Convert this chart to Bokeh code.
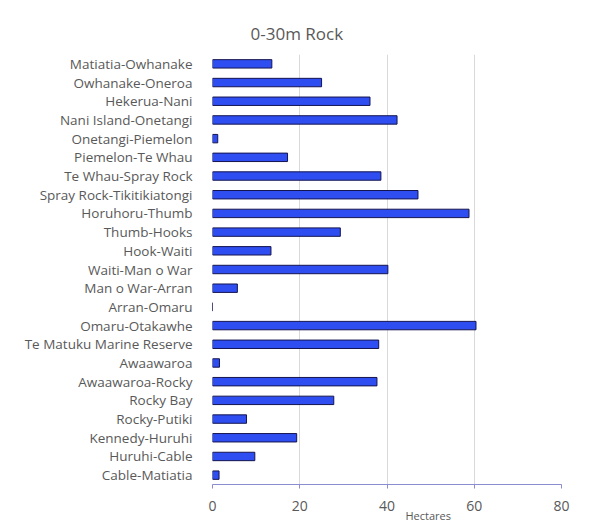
from bokeh.plotting import figure
from bokeh.models import FactorRange, FixedTicker, Title
from bokeh.embed import file_html
from bokeh.resources import INLINE

categories = [
    "Matiatia-Owhanake", "Owhanake-Oneroa", "Hekerua-Nani", "Nani Island-Onetangi",
    "Onetangi-Piemelon", "Piemelon-Te Whau", "Te Whau-Spray Rock",
    "Spray Rock-Tikitikiatongi", "Horuhoru-Thumb", "Thumb-Hooks", "Hook-Waiti",
    "Waiti-Man o War", "Man o War-Arran", "Arran-Omaru", "Omaru-Otakawhe",
    "Te Matuku Marine Reserve", "Awaawaroa", "Awaawaroa-Rocky", "Rocky Bay",
    "Rocky-Putiki", "Kennedy-Huruhi", "Huruhi-Cable", "Cable-Matiatia",
]
hectares = [13.6, 25.0, 36.1, 42.3, 1.2, 17.2, 38.6, 47.1, 58.8, 29.3, 13.4,
            40.2, 5.7, 0.0, 60.4, 38.1, 1.6, 37.7, 27.8, 7.8, 19.3, 9.7, 1.5]
x_ticks = [0, 20, 40, 60, 80]

FONT = "Open Sans"
GREY = "#595959"

p = figure(
    y_range=FactorRange(factors=list(reversed(categories))),
    x_range=(0, 80),
    frame_width=349, frame_height=430,
    min_border_left=212, min_border_right=27, min_border_top=54, min_border_bottom=37,
    output_backend="svg", toolbar_location=None,
)

p.hbar(y=categories, right=hectares, left=0, height=0.45,
       fill_color="#2E4EF2", line_color="#141450", line_width=1)

p.title = Title(text="0-30m Rock", align="left", offset=38, standoff=20,
                text_font=FONT, text_font_size="17px", text_font_style="normal",
                text_color=GREY)

p.outline_line_color = None
p.ygrid.grid_line_color = None
p.xgrid.grid_line_color = "#d9d9d9"
p.xgrid.ticker = FixedTicker(ticks=x_ticks)

p.xaxis.ticker = FixedTicker(ticks=x_ticks)
p.xaxis.axis_line_color = "#8c8cd0"
p.xaxis.major_tick_line_color = "#8c8cd0"
p.xaxis.major_tick_in = 0
p.xaxis.major_tick_out = 4
p.xaxis.minor_tick_line_color = None
p.xaxis.major_label_text_font = FONT
p.xaxis.major_label_text_font_size = "14px"
p.xaxis.major_label_text_color = GREY
p.xaxis.major_label_standoff = 12

p.yaxis.axis_line_color = None
p.yaxis.major_tick_line_color = None
p.yaxis.minor_tick_line_color = None
p.yaxis.major_label_text_font = FONT
p.yaxis.major_label_text_font_size = "13.5px"
p.yaxis.major_label_text_color = GREY
p.yaxis.major_label_standoff = 14

p.add_layout(Title(text="Hectares", align="left", offset=193, standoff=-18,
                   text_font=FONT, text_font_size="11px", text_font_style="normal",
                   text_color=GREY), "below")

open("out.html", "w").write(file_html(p, INLINE))
